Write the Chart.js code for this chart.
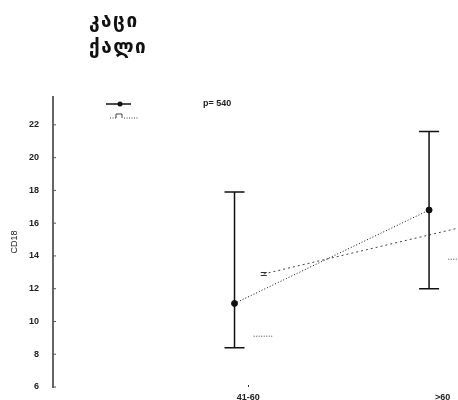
<!DOCTYPE html>
<html>
<head>
<meta charset="utf-8">
<script src="https://cdn.jsdelivr.net/npm/chart.js@4"></script>
<style>
  html, body { margin: 0; padding: 0; background: #fff; }
  #wrap { position: relative; width: 458px; height: 400px; }
  #c { display: block; }
  .geo { position: absolute; left: 89px; font: bold 19px "DejaVu Sans", sans-serif; color: #111; line-height: 24px; letter-spacing: 1.5px; }
</style>
</head>
<body>
<div id="wrap">
  <div class="geo" style="top:8px">კაცი</div>
  <div class="geo" style="top:34px">ქალი</div>
  <canvas id="c" width="458" height="400"></canvas>
</div>
<script>
// data
const categories = ['41-60', '>60'];
const menMean = [11.1, 16.8];
const menLow = [8.4, 12.0];
const menHigh = [17.9, 21.6];
const womenMean = [12.9, 15.7];
const womenLow = [9.1, 13.8];
const yTicks = [6, 8, 10, 12, 14, 16, 18, 20, 22];
const pLabel = 'p= 540';

const womenShift = 0.15; // women plotted a little right of men
const labelShift = 0.07;

// "=" marker used for the women series
const eqMark = document.createElement('canvas');
eqMark.width = 8; eqMark.height = 6;
(function () {
    const g = eqMark.getContext('2d');
    g.fillStyle = '#333';
    g.fillRect(1, 1, 6, 1);
    g.fillRect(1, 4, 6, 1);
})();

const errorBars = {
    id: 'errorBars',
    afterDatasetsDraw(chart) {
        const ctx = chart.ctx;
        const xs = chart.scales.x, ys = chart.scales.y;
        ctx.save();
        // men: solid whiskers with caps
        ctx.strokeStyle = '#111';
        ctx.lineWidth = 1.5;
        menMean.forEach((m, i) => {
            const x = xs.getPixelForValue(i + 1);
            const lo = ys.getPixelForValue(menLow[i]);
            const hi = ys.getPixelForValue(menHigh[i]);
            ctx.beginPath();
            ctx.moveTo(x, lo); ctx.lineTo(x, hi);
            ctx.moveTo(x - 10, lo); ctx.lineTo(x + 10, lo);
            ctx.moveTo(x - 10, hi); ctx.lineTo(x + 10, hi);
            ctx.stroke();
        });
        // women: dotted lower caps
        ctx.strokeStyle = '#444';
        ctx.lineWidth = 1;
        ctx.setLineDash([1, 1.5]);
        womenLow.forEach((v, i) => {
            const x = xs.getPixelForValue(i + 1 + womenShift);
            const y = ys.getPixelForValue(v);
            ctx.beginPath();
            ctx.moveTo(x - 10, y); ctx.lineTo(x + 10, y);
            ctx.stroke();
        });
        ctx.setLineDash([]);

        // inward ticks on y axis
        ctx.strokeStyle = '#555';
        ctx.lineWidth = 1;
        yTicks.forEach(t => {
            const y = ys.getPixelForValue(t);
            ctx.beginPath();
            ctx.moveTo(xs.left, y); ctx.lineTo(xs.left + 3, y);
            ctx.stroke();
        });
        // small mark above the first category label
        ctx.fillStyle = '#333';
        ctx.fillRect(Math.round(xs.getPixelForValue(1 + labelShift)), ys.bottom - 2, 1, 2);

        // legend inside plot
        ctx.strokeStyle = '#111';
        ctx.lineWidth = 1.5;
        ctx.beginPath(); ctx.moveTo(106, 104); ctx.lineTo(131, 104); ctx.stroke();
        ctx.fillStyle = '#111';
        ctx.beginPath(); ctx.arc(120, 104, 2.5, 0, Math.PI * 2); ctx.fill();
        ctx.strokeStyle = '#444';
        ctx.lineWidth = 1;
        ctx.setLineDash([1, 1.5]);
        ctx.beginPath(); ctx.moveTo(110, 118); ctx.lineTo(116, 118); ctx.moveTo(124, 118); ctx.lineTo(138, 118); ctx.stroke();
        ctx.setLineDash([]);
        ctx.beginPath(); ctx.moveTo(116, 118); ctx.lineTo(116, 114); ctx.lineTo(122, 114); ctx.lineTo(122, 118); ctx.stroke();
        ctx.fillStyle = '#222';
        ctx.font = 'bold 9px "Liberation Sans", Arial, sans-serif';
        ctx.textBaseline = 'middle';
        ctx.fillText(pLabel, 203, 104);
        ctx.restore();
    }
};

const chart = new Chart(document.getElementById('c'), {
    type: 'scatter',
    data: {
        datasets: [{
            label: 'კაცი',
            data: menMean.map((v, i) => ({ x: i + 1, y: v })),
            showLine: true,
            borderColor: '#111',
            borderWidth: 1,
            borderDash: [1, 2],
            pointRadius: 3,
            pointBackgroundColor: '#111',
            pointBorderColor: '#111',
            order: 1
        }, {
            label: 'ქალი',
            data: womenMean.map((v, i) => ({ x: i + 1 + womenShift, y: v })),
            showLine: true,
            clip: false,
            borderColor: '#444',
            borderWidth: 1,
            borderDash: [2, 3],
            pointStyle: eqMark,
            order: 2
        }]
    },
    options: {
        responsive: false,
        animation: false,
        events: [],
        layout: { padding: { top: 97, left: 0, right: 0, bottom: 0 } },
        plugins: { legend: { display: false }, tooltip: { enabled: false } },
        scales: {
            x: {
                type: 'linear',
                min: 0.067,
                max: 2.123,
                grid: { display: false, drawTicks: true, tickLength: 5 },
                border: { display: false },
                afterBuildTicks: s => { s.ticks = categories.map((c, i) => ({ value: i + 1 + labelShift })); },
                afterFit: s => { s.height = 13; },
                ticks: {
                    padding: 0,
                    color: '#222',
                    font: { family: '"Liberation Sans", Arial, sans-serif', size: 9, weight: 'bold' },
                    callback: (v, i) => categories[i]
                }
            },
            y: {
                min: 6,
                max: 23.7,
                grid: { display: false, drawTicks: true, tickLength: 12 },
                border: { display: true, color: '#666', width: 2 },
                afterBuildTicks: s => { s.ticks = yTicks.map(v => ({ value: v })); },
                afterFit: s => { s.width = 53; },
                title: {
                    display: true,
                    text: 'CD18',
                    color: '#222',
                    padding: { top: 9, bottom: 0 },
                    font: { family: '"Liberation Sans", Arial, sans-serif', size: 9 }
                },
                ticks: {
                    padding: 2,
                    color: '#222',
                    font: { family: '"Liberation Sans", Arial, sans-serif', size: 9, weight: 'bold' }
                }
            }
        }
    },
    plugins: [errorBars]
});
</script>
</body>
</html>
